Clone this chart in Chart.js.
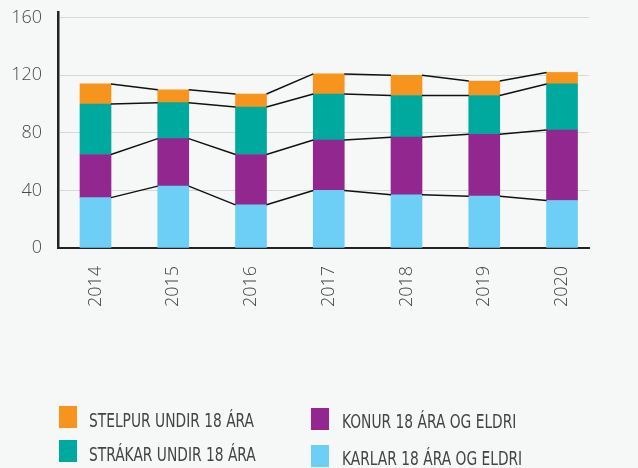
<!DOCTYPE html>
<html>
<head>
<meta charset="utf-8">
<script src="https://cdn.jsdelivr.net/npm/chart.js@4/dist/chart.umd.min.js"></script>
<style>
  html,body{margin:0;padding:0;background:#f5f8f7;}
  #wrap{position:relative;width:638px;height:468px;}
  canvas{position:absolute;left:0;top:0;}
  .lg{position:absolute;font-family:'Liberation Sans Narrow','DejaVu Sans Condensed',sans-serif;font-size:20px;color:#444;white-space:nowrap;transform-origin:0 50%;line-height:20px;}
  .bx{position:absolute;width:18px;height:22px;}
</style>
</head>
<body>
<div id="wrap">
  <canvas id="c" width="638" height="468"></canvas>
</div>
<script>
const years = ['2014','2015','2016','2017','2018','2019','2020'];
const karlar  = [35, 43, 30, 40, 37, 36, 33];
const konur   = [30, 33, 35, 35, 40, 43, 49];
const strakar = [35, 25, 33, 32, 29, 27, 32];
const stelpur = [14,  9,  9, 14, 14, 10,  8];
const yTicks = [0, 40, 80, 120, 160];
const seriesLabels = ['KARLAR 18 ÁRA OG ELDRI','KONUR 18 ÁRA OG ELDRI','STRÁKAR UNDIR 18 ÁRA','STELPUR UNDIR 18 ÁRA'];
const seriesColors = ['#6dcff6','#92278f','#00a99d','#f7941d'];
const seriesValues = [karlar, konur, strakar, stelpur];

const datasets = seriesValues.map((vals, k) => ({
  label: seriesLabels[k],
  data: vals.map((v, i) => ({x: i, y: v})),
  backgroundColor: seriesColors[k],
  borderWidth: 0,
  barThickness: 31,
  stack: 'all'
}));

const connectors = {
  id: 'connectors',
  afterDatasetsDraw(chart) {
    const ctx = chart.ctx;
    ctx.save();
    ctx.strokeStyle = '#111';
    ctx.lineWidth = 1.5;
    chart.data.datasets.forEach((ds, di) => {
      const meta = chart.getDatasetMeta(di);
      for (let i = 0; i < meta.data.length - 1; i++) {
        const a = meta.data[i], b = meta.data[i + 1];
        ctx.beginPath();
        ctx.moveTo(a.x + a.width / 2, a.y);
        ctx.lineTo(b.x - b.width / 2, b.y);
        ctx.stroke();
      }
    });
    ctx.restore();
  }
};

Chart.defaults.font.family = "'Open Sans', sans-serif";
Chart.defaults.color = '#555';

const chart = new Chart(document.getElementById('c'), {
  type: 'bar',
  data: { datasets },
  plugins: [connectors],
  options: {
    responsive: false,
    animation: false,
    layout: { padding: { top: 12, right: 49, left: 0, bottom: 0 } },
    plugins: { legend: { display: false }, tooltip: { enabled: false } },
    scales: {
      x: {
        type: 'linear',
        offset: false,
        min: -0.4823,
        max: 6.347,
        grid: { display: false, offset: false },
        border: { display: true, color: '#222', width: 2 },
        afterBuildTicks: (axis) => { axis.ticks = years.map((y, i) => ({ value: i })); },
        afterFit: (axis) => { axis.height = 220; axis.paddingLeft = 0; axis.paddingRight = 0; },
        ticks: {
          autoSkip: false,
          minRotation: 90,
          maxRotation: 90,
          padding: 10,
          font: { size: 18, weight: 300 },
          color: '#444',
          callback: (v) => years[v]
        }
      },
      y: {
        stacked: true,
        min: 0,
        max: 164,
        grid: { color: '#d6d9d8', lineWidth: 1, drawTicks: false },
        border: { display: true, color: '#222', width: 2.5 },
        afterBuildTicks: (axis) => { axis.ticks = yTicks.map(v => ({ value: v })); },
        afterFit: (axis) => { axis.width = 58; axis.paddingTop = 0; axis.paddingBottom = 0; },
        ticks: {
          padding: 16,
          font: { size: 18, weight: 300 },
          color: '#4a4a4a'
        }
      }
    }
  }
});

// HTML legend built from the chart datasets
const wrap = document.getElementById('wrap');
const legendLayout = [
  { ds: 3, bx: 59, by: 406, tx: 89, ty: 420 },
  { ds: 2, bx: 59, by: 440, tx: 89, ty: 454 },
  { ds: 1, bx: 311, by: 408, tx: 342, ty: 421 },
  { ds: 0, bx: 311, by: 445, tx: 342, ty: 458 }
];
const mctx = document.createElement('canvas').getContext('2d');
mctx.font = "20px 'Liberation Sans Narrow','DejaVu Sans Condensed',sans-serif";
const scale = 165 / mctx.measureText('STELPUR UNDIR 18 ÁRA').width;
legendLayout.forEach(L => {
  const d = chart.data.datasets[L.ds];
  const b = document.createElement('div');
  b.className = 'bx';
  b.style.left = L.bx + 'px'; b.style.top = L.by + 'px';
  b.style.background = d.backgroundColor;
  wrap.appendChild(b);
  const t = document.createElement('div');
  t.className = 'lg';
  t.textContent = d.label;
  t.style.left = L.tx + 'px'; t.style.top = (L.ty - 10) + 'px';
  t.style.transform = 'scaleX(' + scale + ')';
  wrap.appendChild(t);
});
</script>
</body>
</html>
